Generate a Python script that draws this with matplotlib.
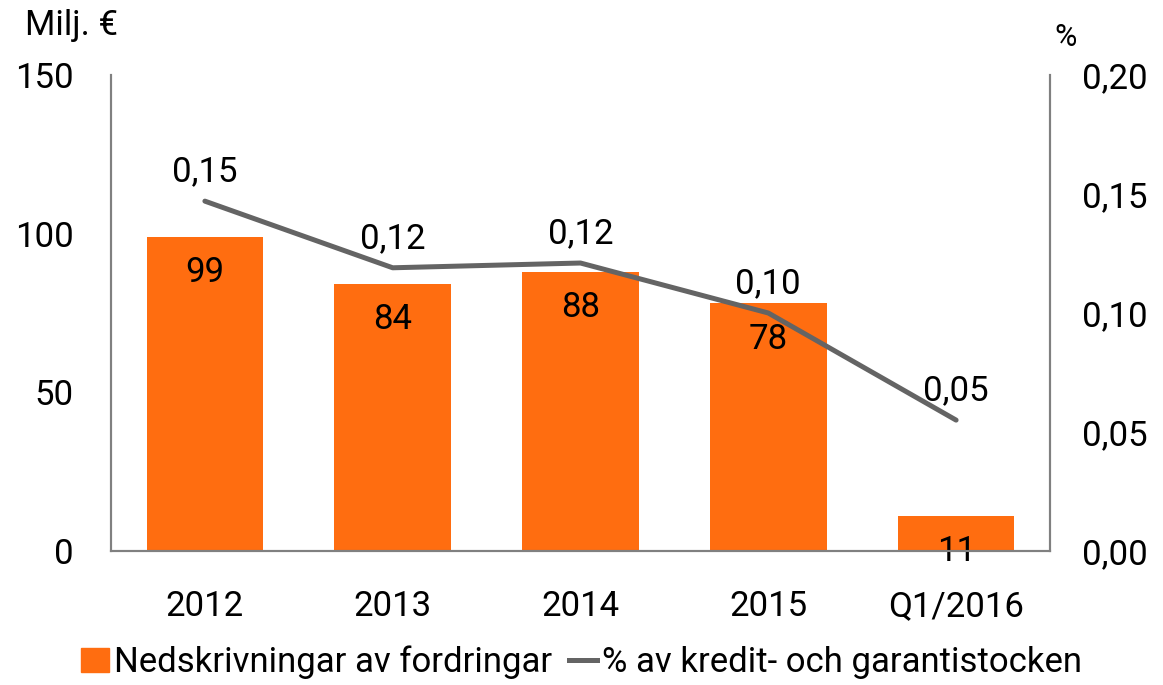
import matplotlib
matplotlib.use("Agg")
import matplotlib.pyplot as plt
from matplotlib.lines import Line2D
from matplotlib.patches import Patch

plt.rcParams['font.family'] = ['Roboto', 'DejaVu Sans']

# data
kategorier = ['2012', '2013', '2014', '2015', 'Q1/2016']
nedskrivningar = [99, 84, 88, 78, 11]
procent = [0.147, 0.119, 0.121, 0.100, 0.055]
procent_etiketter = ['0,15', '0,12', '0,12', '0,10', '0,05']

orange = '#FF6D10'
gra = '#646464'
spine = '#808080'
fs = 25

fig = plt.figure(figsize=(11.63, 6.85), dpi=100)
ax = fig.add_axes([111/1163, 1-551/685, (1050-111)/1163, (551-75)/685])
ax2 = ax.twinx()

x = range(len(kategorier))
bars = ax.bar(x, nedskrivningar, width=0.62, color=orange, zorder=2)
ax.set_xlim(-0.5, len(kategorier)-0.5)
ax.set_ylim(0, 150)
ax.set_yticks([0, 50, 100, 150])
ax.set_xticks(list(x))
ax.set_xticklabels(kategorier)
ax.tick_params(axis='both', length=0, labelsize=fs)
ax.tick_params(axis='y', pad=27)
ax.tick_params(axis='x', pad=28)

for i, v in enumerate(nedskrivningar):
    ax.text(i, v-6, str(v), ha='center', va='top', fontsize=fs, zorder=5)

ax2.plot(list(x), procent, color=gra, linewidth=3.6, solid_capstyle='round', zorder=3)
ax2.set_ylim(0, 0.2)
ax2.set_yticks([0, 0.05, 0.10, 0.15, 0.20])
ax2.set_yticklabels(['0,00', '0,05', '0,10', '0,15', '0,20'])
ax2.tick_params(axis='y', length=0, labelsize=fs, pad=23)

for i, v in enumerate(procent):
    ax2.text(i, v+0.0055, procent_etiketter[i], ha='center', va='bottom', fontsize=fs, zorder=5)

for a in (ax, ax2):
    a.spines['top'].set_visible(False)
    for s in ('left', 'right', 'bottom'):
        a.spines[s].set_color(spine)
        a.spines[s].set_linewidth(1.5)

fig.text(25/1163, 1-25/685, 'Milj. €', fontsize=fs, ha='left', va='center')
fig.text(1066/1163, 1-38/685, '%', fontsize=22, ha='center', va='center')

handles = [Patch(color=orange), Line2D([0], [0], color=gra, linewidth=3.6)]
fig.legend(handles, ['Nedskrivningar av fordringar', '% av kredit- och garantistocken'],
           loc='center', bbox_to_anchor=(0.5, 1-662/685), ncol=2, frameon=False,
           fontsize=fs, handlelength=0.8, handletextpad=0.15, columnspacing=0.5)

fig.savefig('out.png', dpi=100)
